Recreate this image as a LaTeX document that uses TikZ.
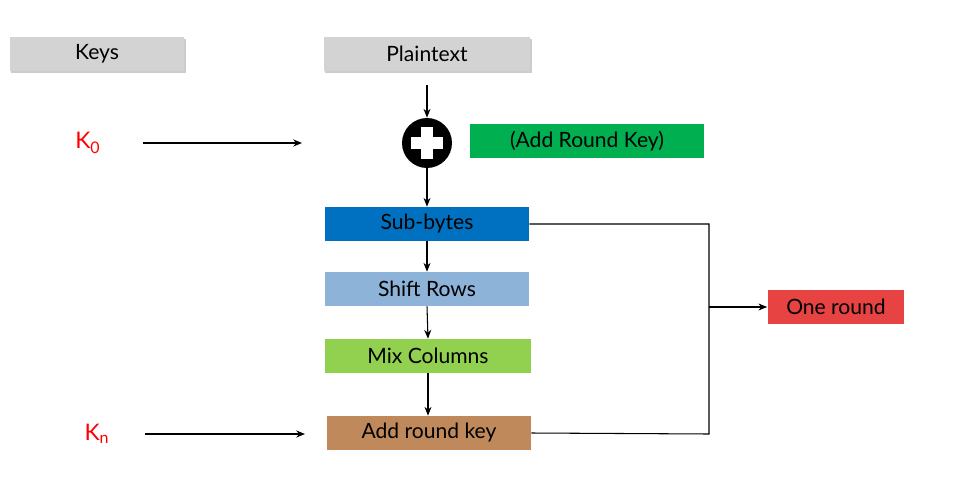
\documentclass[tikz,border=0pt]{standalone}
\usepackage{fontspec}
\setmainfont{Lato}
\usetikzlibrary{arrows.meta,shadows}
\definecolor{boxgray}{HTML}{D3D3D3}
\definecolor{kgreen}{HTML}{00B050}
\definecolor{kblue}{HTML}{0070C0}
\definecolor{klblue}{HTML}{8DB3D9}
\definecolor{klgreen}{HTML}{92D050}
\definecolor{kbrown}{HTML}{C0895C}
\definecolor{kred}{HTML}{E84343}
\begin{document}
\begin{tikzpicture}[x=0.02cm,y=-0.02cm,
  box/.style={draw=none,minimum height=0.68cm,inner sep=0pt,font=\fontsize{12}{14}\selectfont},
  gbox/.style={box,fill=boxgray,drop shadow={shadow xshift=1pt,shadow yshift=-1pt,opacity=0.4}},
  arr/.style={-{Stealth[length=5pt,width=4pt]},black,line width=0.6pt},
  ln/.style={black,line width=0.6pt}]
\useasboundingbox (0,0) rectangle (964,477);
\node[gbox,minimum width=3.5cm] (keys) at (97,54) {Keys};
\node[gbox,minimum width=4.14cm] (plain) at (427,54) {Plaintext};
\node[text=red,font=\fontsize{13}{15}\selectfont] (k0) at (88,143) {K\textsubscript{0}};
\coordinate (k0s) at (143,143);
\coordinate (k0e) at (302,143);
\draw[arr] (k0s) -- (k0e);
\node[circle,fill=black,minimum size=1.0cm,inner sep=0pt] (xor) at (427,143) {};
\fill[white] (421,127) rectangle (433,159);
\fill[white] (411,137) rectangle (443,149);
\node[box,fill=kgreen,minimum width=4.68cm] (ark) at (587,141) {(Add Round Key)};
\node[box,fill=kblue,minimum width=4.08cm] (sub) at (427,224) {Sub-bytes};
\node[box,fill=klblue,minimum width=4.08cm] (shift) at (427,289) {Shift Rows};
\node[box,fill=klgreen,minimum width=4.12cm] (mix) at (428,356) {Mix Columns};
\node[box,fill=kbrown,minimum width=4.08cm] (add) at (429,433) {Add round key};
\node[text=red,font=\fontsize{13}{15}\selectfont] (kn) at (97,434) {K\textsubscript{n}};
\coordinate (kns) at (145,434);
\coordinate (kne) at (305,434);
\draw[arr] (kns) -- (kne);
\node[box,fill=kred,minimum width=2.74cm] (one) at (836,307) {One round};
\draw[arr] ([yshift=-8]plain.south) -- (xor.north);
\draw[arr] (xor.south) -- (sub.north);
\draw[arr] (sub.south) -- (shift.north);
\draw[arr] (shift.south) -- (mix.north);
\draw[arr] (mix.south) -- (add.north -| mix.south);
\coordinate (c1) at (709,224);
\coordinate (c2) at (709,434);
\coordinate (cm) at (709,307);
\draw[ln] (sub.east) -- (c1) -- (c2) -- (add.east);
\draw[arr] (cm) -- (one.west);
\end{tikzpicture}
\end{document}
